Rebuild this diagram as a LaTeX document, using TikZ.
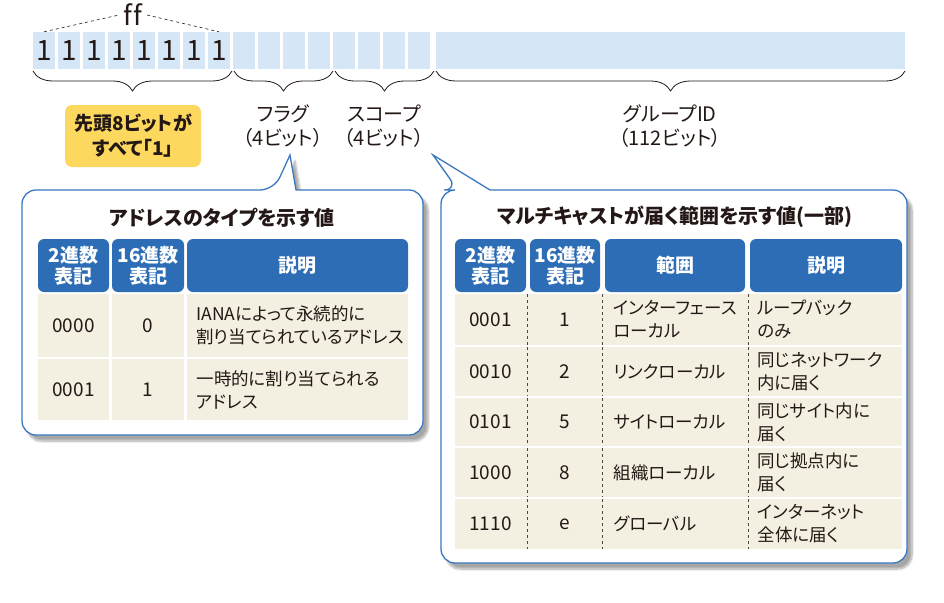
\documentclass[tikz,border=0pt]{standalone}
\usepackage{fontspec}
\setmainfont[RawFeature=+palt]{Noto Sans CJK JP}
\usetikzlibrary{decorations.pathreplacing,shadows.blur}
\definecolor{cellblue}{HTML}{D5E6F6}
\definecolor{hdr}{HTML}{2C6DB5}
\definecolor{beige}{HTML}{F3F0E1}
\definecolor{yel}{HTML}{FDD85F}
\definecolor{bord}{HTML}{3A78C0}
\definecolor{ink}{HTML}{231815}
\tikzset{
  bit/.style={fill=cellblue, minimum width=22pt, minimum height=37pt, inner sep=0, font=\fontsize{28}{28}\selectfont, text=ink},
  brc/.style={decorate, decoration={brace, amplitude=20pt, mirror}, draw=ink, line width=0.8pt},
  lbl/.style={align=center, text=ink, font=\fontsize{20}{24}\selectfont},
  callout/.style={draw=bord, line width=1.3pt, fill=white, blur shadow={shadow xshift=5pt, shadow yshift=-6pt, shadow blur steps=8, shadow opacity=35}},
  hcell/.style={fill=hdr, text=white, font=\fontsize{19}{21}\bfseries\selectfont, align=center, inner sep=0},
  ttl/.style={text=ink, font=\fontsize{20}{22}\bfseries\selectfont},
  txt/.style={text=ink, font=\fontsize{17.5}{23}\selectfont, align=left, anchor=west},
  ctxt/.style={text=ink, font=\fontsize{19}{23}\selectfont},
  dsep/.style={draw=ink!80, dashed, line width=0.6pt},
}
\begin{document}
\begin{tikzpicture}[x=1pt,y=-1pt]
\useasboundingbox (0,0) rectangle (944,602);
% bits
\foreach \i in {1,...,16}{
  \pgfmathsetmacro\cx{44+25*(\i-1)}
  \ifnum\i<9
    \node[bit] (b\i) at (\cx,50.5) {1};
  \else
    \node[bit] (b\i) at (\cx,50.5) {};
  \fi
}
\node[fill=cellblue, minimum width=469pt, minimum height=37pt, inner sep=0] (big) at (670.5,50.5) {};
\node[text=ink, font=\fontsize{27}{27}\selectfont, inner sep=4pt] (ff) at (133,15) {f\kern2pt f};
\draw[dashed, ink, line width=0.6pt] (b1.north) -- (ff.west);
\draw[dashed, ink, line width=0.6pt] (ff.east) -- (b8.north);
% braces
\draw[brc] (33,71) -- (232,71);
\draw[brc] (234,71) -- (333,71);
\draw[brc] (335,71) -- (434,71);
\draw[brc] (436,71) -- (905,71);
\node[fill=yel, rounded corners=7pt, minimum width=136pt, minimum height=62pt, align=center, text=ink, font=\fontsize{19}{25}\bfseries\selectfont] (yb) at (133,136) {先頭8ビットが\\すべて「1」};
\node[lbl] (flag) at (283,126) {フラグ\\（4ビット）};
\node[lbl] (scope) at (384,126) {スコープ\\（4ビット）};
\node[lbl] (grp) at (670,126) {グループID\\（112ビット）};
% left callout
\coordinate (lt) at (290,155);
\path[callout] (296,190) [rounded corners=14pt] -- (423,190) -- (423,435) -- (22,435) -- (22,190) -- (274,190) [sharp corners] -- (lt) -- cycle;
\node[ttl] (lttl) at (222,218) {アドレスのタイプを示す値};
\path[hcell, rounded corners=6pt] (38,292) -- (38,239) -- (109,239) -- (109,292) -- cycle;
\path[hcell, rounded corners=6pt] (112,292) -- (112,239) -- (184,239) -- (184,292) -- cycle;
\path[hcell, rounded corners=6pt] (187,292) -- (187,239) -- (408,239) -- (408,292) -- cycle;
\node[hcell] (lh1) at (73.5,265.5) {2進数\\表記};
\node[hcell] (lh2) at (148,265.5) {16進数\\表記};
\node[hcell] (lh3) at (297.5,265.5) {説明};
\fill[beige] (38,294) rectangle (109,357);
\fill[beige] (112,294) rectangle (184,357);
\fill[beige] (187,294) rectangle (408,357);
\fill[beige] (38,359) rectangle (109,420);
\fill[beige] (112,359) rectangle (184,420);
\fill[beige] (187,359) rectangle (408,420);
\node[ctxt] (l11) at (73.5,325.5) {0000};
\node[ctxt] (l12) at (148,325.5) {0};
\node[txt] (l13) at (193,325.5) {IANAによって永続的に\\割り当てられているアドレス};
\node[ctxt] (l21) at (73.5,389.5) {0001};
\node[ctxt] (l22) at (148,389.5) {1};
\node[txt] (l23) at (193,389.5) {一時的に割り当てられる\\アドレス};
% right callout
\coordinate (rt) at (433,155);
\path[callout] (490,190) [rounded corners=14pt] -- (907,190) -- (907,563) -- (441,563) -- (441,190) -- (458,190) [sharp corners] -- (rt) -- cycle;
\node[ttl] (rttl) at (675,217) {マルチキャストが届く範囲を示す値(一部)};
\path[hcell, rounded corners=6pt] (455,292) -- (455,239) -- (526,239) -- (526,292) -- cycle;
\path[hcell, rounded corners=6pt] (530,292) -- (530,239) -- (600,239) -- (600,292) -- cycle;
\path[hcell, rounded corners=6pt] (605,292) -- (605,239) -- (745,239) -- (745,292) -- cycle;
\path[hcell, rounded corners=6pt] (750,292) -- (750,239) -- (902,239) -- (902,292) -- cycle;
\node[hcell] (rh1) at (490.5,265.5) {2進数\\表記};
\node[hcell] (rh2) at (565,265.5) {16進数\\表記};
\node[hcell] (rh3) at (675,265.5) {範囲};
\node[hcell] (rh4) at (826,265.5) {説明};
\foreach \ya/\yb in {294/345, 347/396, 398/446, 448/497, 499/549}{
  \fill[beige] (455,\ya) rectangle (902,\yb);
  \draw[dsep] (527.5,\ya) -- (527.5,\yb);
  \draw[dsep] (602.5,\ya) -- (602.5,\yb);
  \draw[dsep] (748,\ya) -- (748,\yb);
}
\node[ctxt] (r11) at (490.5,319.5) {0001};
\node[ctxt] (r12) at (565,319.5) {1};
\node[txt] (r13) at (610,319.5) {インターフェース\\ローカル};
\node[txt] (r14) at (754,319.5) {ループバック\\のみ};
\node[ctxt] (r21) at (490.5,371.5) {0010};
\node[ctxt] (r22) at (565,371.5) {2};
\node[txt] (r23) at (610,371.5) {リンクローカル};
\node[txt] (r24) at (754,371.5) {同じネットワーク\\内に届く};
\node[ctxt] (r31) at (490.5,422) {0101};
\node[ctxt] (r32) at (565,422) {5};
\node[txt] (r33) at (610,422) {サイトローカル};
\node[txt] (r34) at (754,422) {同じサイト内に\\届く};
\node[ctxt] (r41) at (490.5,472.5) {1000};
\node[ctxt] (r42) at (565,472.5) {8};
\node[txt] (r43) at (610,472.5) {組織ローカル};
\node[txt] (r44) at (754,472.5) {同じ拠点内に\\届く};
\node[ctxt] (r51) at (490.5,524) {1110};
\node[ctxt] (r52) at (565,524) {e};
\node[txt] (r53) at (610,524) {グローバル};
\node[txt] (r54) at (754,524) {インターネット\\全体に届く};
\end{tikzpicture}
\end{document}
